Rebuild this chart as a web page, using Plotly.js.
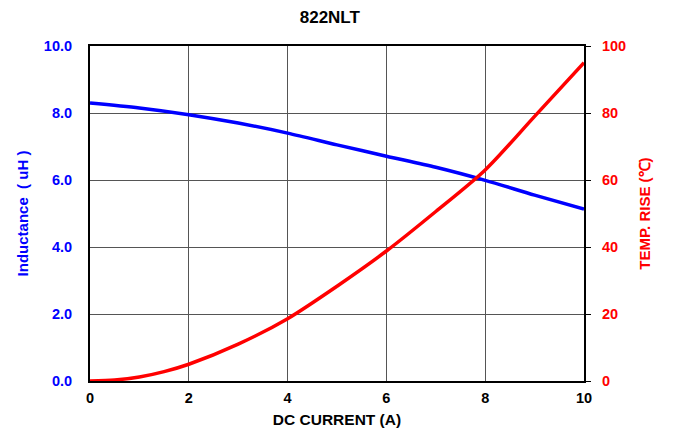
<!DOCTYPE html>
<html>
<head>
<meta charset="utf-8">
<script src="https://cdn.plot.ly/plotly-3.0.1.min.js"></script>
<style>html,body{margin:0;padding:0;background:#fff;}#chart{width:680px;height:430px;}</style>
</head>
<body>
<div id="chart"></div>
<script>
const current = [0, 1, 2, 3, 4, 5, 6, 7, 8, 9, 10];
const inductance = [8.30, 8.15, 7.95, 7.70, 7.40, 7.05, 6.71, 6.38, 5.99, 5.55, 5.13];
const tempCurrent = [0, 0.5, 1, 1.5, 2, 3, 4, 5, 6, 7, 8, 9, 10];
const tempRise = [0, 0.3, 1.2, 2.8, 5.0, 11, 18.6, 28.3, 38.8, 50.6, 63, 79, 95];
const xTicks = [0, 2, 4, 6, 8, 10];
const leftTicks = [0, 2, 4, 6, 8, 10];
const rightTicks = [0, 20, 40, 60, 80, 100];

const fontFam = 'Liberation Sans, Arial, sans-serif';

const traces = [
  {x: current, y: inductance, type: 'scatter', mode: 'lines',
   line: {color: '#0000ff', width: 3.5, shape: 'spline', smoothing: 0.8}, yaxis: 'y', hoverinfo: 'skip'},
  {x: tempCurrent, y: tempRise, type: 'scatter', mode: 'lines',
   line: {color: '#ff0000', width: 3.5, shape: 'spline', smoothing: 0.8}, yaxis: 'y2', hoverinfo: 'skip'}
];

const layout = {
  width: 680, height: 430,
  margin: {l: 90, r: 96, t: 46, b: 49},
  paper_bgcolor: '#fff', plot_bgcolor: '#fff',
  showlegend: false,
  font: {family: fontFam, size: 12, color: '#000'},
  title: {text: '<b>822NLT</b>', x: 0.485, xanchor: 'center', y: 0.96, yanchor: 'middle',
          font: {family: fontFam, size: 17, color: '#000'}},
  xaxis: {range: [0, 10], tickvals: xTicks, ticktext: xTicks.map(String),
          showgrid: true, gridcolor: '#555', gridwidth: 1,
          showline: true, linecolor: '#000', linewidth: 2, mirror: true,
          ticks: '', zeroline: false, ticklabelstandoff: 3,
          tickfont: {family: fontFam, size: 14.5, color: '#000', weight: 'bold'},
          title: {text: '<b>DC CURRENT (A)</b>', standoff: 9, font: {family: fontFam, size: 15.5, color: '#000'}}},
  yaxis: {range: [0, 10], tickvals: leftTicks, ticktext: leftTicks.map(v => v.toFixed(1)),
          showgrid: true, gridcolor: '#555', gridwidth: 1,
          showline: true, linecolor: '#000', linewidth: 2,
          ticks: '', zeroline: false, ticklabelstandoff: 13,
          tickfont: {family: fontFam, size: 14.5, color: '#0000ff', weight: 'bold'},
          title: {text: '<b>Inductance  ( uH )</b>', standoff: 12, font: {family: fontFam, size: 15, color: '#0000ff'}}},
  yaxis2: {range: [0, 100], overlaying: 'y', side: 'right', tickvals: rightTicks, ticktext: rightTicks.map(String),
          showgrid: false, showline: true, linecolor: '#000', linewidth: 2,
          ticks: 'outside', ticklen: 5, tickcolor: '#000', tickwidth: 1, zeroline: false, ticklabelstandoff: 8,
          tickfont: {family: fontFam, size: 14.5, color: '#ff0000', weight: 'bold'},
          title: {text: '<b>TEMP. RISE (℃)</b>', standoff: 14, font: {family: fontFam, size: 15, color: '#ff0000'}}}
};

Plotly.newPlot('chart', traces, layout, {displayModeBar: false, staticPlot: true});
</script>
</body>
</html>
